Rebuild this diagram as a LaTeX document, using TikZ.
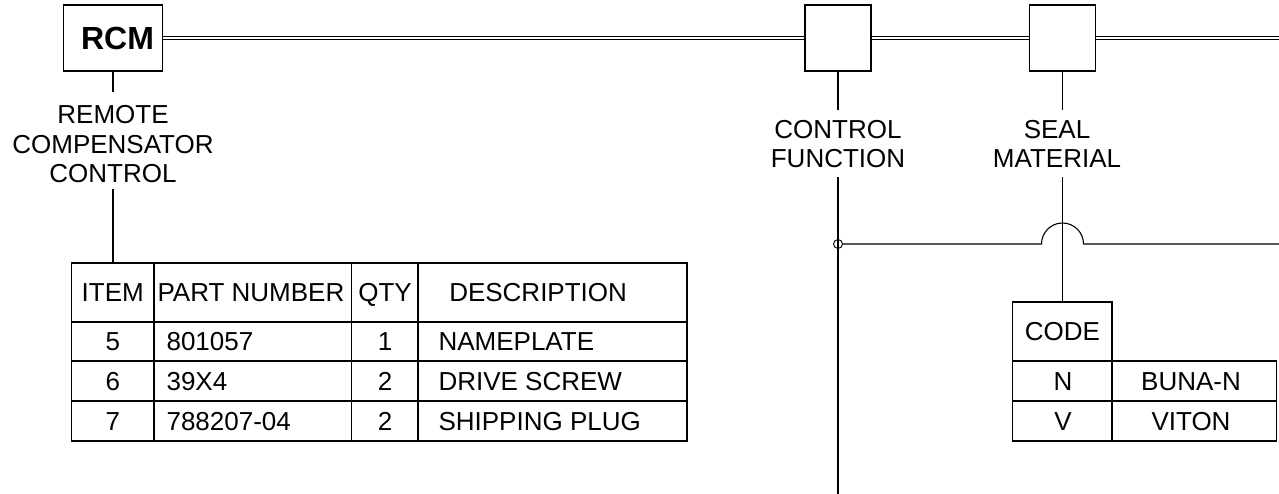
\documentclass[tikz,border=0pt]{standalone}
\usepackage{fontspec}
\setmainfont{Liberation Sans}

\begin{document}
\begin{tikzpicture}[x=1pt, y=-1pt, line width=1.1pt,
  txt/.style={font=\fontsize{26}{29.3}\selectfont},
  box/.style={draw, minimum width=66pt, minimum height=66pt, inner sep=0pt},
  tag/.style={txt, align=center, inner sep=0pt},
  cell/.style={txt, inner sep=0pt, text height=18.6pt, text depth=0pt},
  bus/.style={double, double distance=1.4pt, line width=0.9pt}]
\useasboundingbox (0,0) rectangle (1279,494);

\node[box, minimum width=99pt, font=\fontsize{32}{36}\selectfont\bfseries] (rcm) at (113,38) {\hspace*{9pt}RCM};
\node[box] (cf) at (838,38) {};
\node[box] (sm) at (1062.5,38) {};
\coordinate (busend) at (1279,38);
\draw[bus] (rcm) -- (cf) -- (sm) -- (busend);

\node[tag] (rcmlab) at (113,144.2) {REMOTE\\COMPENSATOR\\CONTROL};
\node[tag] (cflab) at (838,144.2) {CONTROL\\FUNCTION};
\node[tag] (smlab) at (1057,144.2) {SEAL\\MATERIAL};

\coordinate (parts) at (113,263);
\coordinate (codes) at (1062.5,302);
\coordinate (cfend) at (838,494);
\coordinate (tapend) at (1279,244);
\draw (rcm.south) -- ([yshift=13pt]rcmlab.north);
\draw ([yshift=-6pt]rcmlab.south) -- (parts);
\draw (cf.south) -- ([yshift=10pt]cflab.north);
\draw ([yshift=-8.7pt]cflab.south) -- (cfend);
\draw (sm.south) -- ([yshift=10pt]sm.south |- smlab.north);
\draw ([yshift=-8.7pt]codes |- smlab.south) -- (codes);

\node[draw, circle, minimum size=9pt, inner sep=0pt, line width=0.9pt] (tap) at (838,244) {};
\draw (tap) -- (1041.5,244) arc[start angle=180, end angle=0, radius=21pt] -- (tapend);

% parts list
\draw (71.7,263) rectangle (687,441);
\foreach \y in {322,361,401} \draw (71.7,\y) -- (687,\y);
\foreach \x in {154,351.7,418} \draw (\x,263) -- (\x,441);
\node[cell] (hitem) at (112.8,292.5) {ITEM};
\node[cell, anchor=west] (hpart) at (157,292.5) {PART NUMBER};
\node[cell] (hqty) at (385,292.5) {QTY};
\node[cell, anchor=west] (hdesc) at (448.7,292.5) {DESCRIPTION};
\foreach \i/\p/\q/\d/\y in {5/801057/1/NAMEPLATE/341.5, 6/39X4/2/DRIVE SCREW/381, 7/788207-04/2/SHIPPING PLUG/421} {
  \node[cell] (item\i) at (112.8,\y) {\i};
  \node[cell, anchor=west] (part\i) at (166,\y) {\p};
  \node[cell] (qty\i) at (385,\y) {\q};
  \node[cell, anchor=west] (desc\i) at (438,\y) {\d};
}

% seal codes
\draw (1012.7,302) rectangle (1112,441) (1112,361) rectangle (1276.7,441)
  (1012.7,361) -- (1112,361) (1012.7,401) -- (1276.7,401);
\node[cell] (hcode) at (1062.5,331.5) {CODE};
\foreach \c/\m/\y in {N/BUNA-N/381, V/VITON/421} {
  \node[cell] (code\c) at (1063,\y) {\c};
  \node[cell] (mat\c) at (1191,\y) {\m};
}
\end{tikzpicture}
\end{document}
